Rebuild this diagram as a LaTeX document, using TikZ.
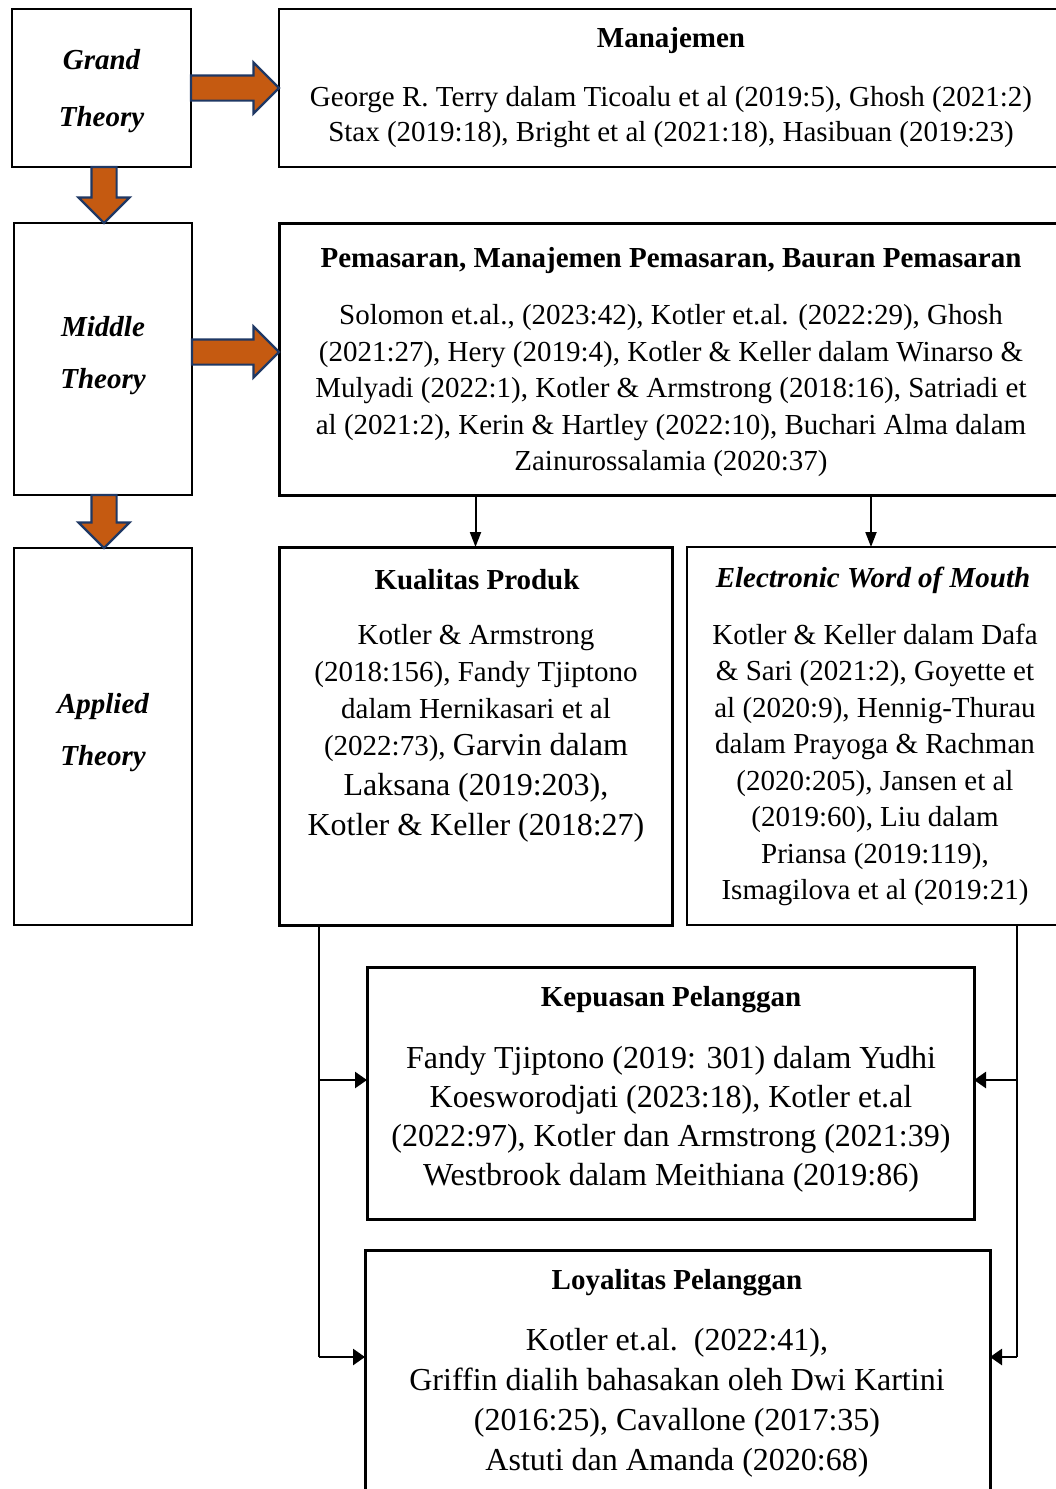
\documentclass[tikz,border=0pt]{standalone}
\usepackage{fontspec}
\setmainfont{Liberation Serif}
\usepackage{xcolor}
\usetikzlibrary{positioning, calc, shapes.arrows, arrows.meta}
\definecolor{rust}{HTML}{C55A11}
\definecolor{navy}{HTML}{1F3864}
\tikzset{
    frame/.style ={draw, inner sep=0pt, outer sep=0pt, line width=1.3pt},
    heavy/.style ={frame, line width=3pt},
    theory/.style={align=center, inner sep=0pt, yshift=-3pt, font=\fontsize{29}{57}\selectfont\bfseries\itshape},
    head/.style  ={align=center, inner sep=0pt, yshift=-3pt, font=\fontsize{29}{36}\selectfont\bfseries},
    txt/.style   ={align=center, inner sep=0pt, yshift=-3pt, font=\fontsize{29}{36.5}\selectfont},
    bigtxt/.style={align=center, inner sep=0pt, yshift=-3pt, font=\fontsize{32}{39.5}\selectfont},
    blockarrow/.style={single arrow, draw=navy, fill=rust, line width=2.2pt,
        inner xsep=0pt, inner ysep=11.5pt, minimum width=49pt,
        single arrow head extend=13pt, outer sep=0pt},
    directed/.style={-{Triangle[length=15pt,width=11pt]}, line width=2pt},
    feed/.style={-{Triangle[length=12pt,width=16pt]}, line width=2.6pt},
    rail/.style={line width=1.3pt}
}

\begin{document}
\begin{tikzpicture}[x=1pt, y=-1pt]
    \useasboundingbox (0,0) rectangle (1056,1489);
    \clip (0,0) rectangle (1056,1489);

    % left column
    \node[frame, minimum width=179pt, minimum height=158pt] (grand) at (101.5,88) {};
    \node[frame, minimum width=178pt, minimum height=272pt] (middle) at (103,359) {};
    \node[frame, minimum width=178pt, minimum height=377pt] (applied) at (103,736.5) {};
    \node[theory] at (101.5,88) {Grand\\Theory};
    \node[theory, font=\fontsize{29}{52}\selectfont\bfseries\itshape] at (103,353) {Middle\\Theory};
    \node[theory, font=\fontsize{29}{52}\selectfont\bfseries\itshape] at (103,730) {Applied\\Theory};

    % theory boxes
    \node[frame, line width=1.5pt, minimum width=781pt, minimum height=158pt] (manaj) at (669.5,88) {};
    \node[heavy, minimum width=781pt, minimum height=272pt] (pemas) at (669.5,359) {};
    \node[heavy, minimum width=393pt, minimum height=378pt] (kual) at (475.5,736) {};
    \node[frame, line width=1.5pt, minimum width=373pt, minimum height=378pt] (ewom) at (873.5,736) {};
    \node[heavy, minimum width=607pt, minimum height=252pt] (kepuas) at (670.5,1093) {};
    \node[heavy, minimum width=625pt, minimum height=250pt] (loyal) at (677.5,1375) {};

    \node[head] at (671,38) {Manajemen};
    \node[txt, font=\fontsize{29}{35}\selectfont] at (671,114) {George R. Terry dalam Ticoalu et al (2019:5), Ghosh (2021:2)\\
        Stax (2019:18), Bright et al (2021:18), Hasibuan (2019:23)};

    \node[head] at (671,258) {Pemasaran, Manajemen Pemasaran, Bauran Pemasaran};
    \node[txt] at (671,388) {Solomon et.al., (2023:42), Kotler et.al. (2022:29), Ghosh\\
        (2021:27), Hery (2019:4), Kotler \& Keller dalam Winarso \&\\
        Mulyadi (2022:1), Kotler \& Armstrong (2018:16), Satriadi et\\
        al (2021:2), Kerin \& Hartley (2022:10), Buchari Alma dalam\\
        Zainurossalamia (2020:37)};

    \node[head] at (477,577) {Kualitas Produk};
    \node[txt, font=\fontsize{29}{37}\selectfont] at (476,730) {Kotler \& Armstrong\\
        (2018:156), Fandy Tjiptono\\
        dalam Hernikasari et al\\
        (2022:73), {\fontsize{32}{37}\selectfont Garvin dalam}\\[3pt]
        {\fontsize{32}{37}\selectfont Laksana (2019:203),}\\[3pt]
        {\fontsize{32}{37}\selectfont Kotler \& Keller (2018:27)}};

    \node[head, font=\fontsize{29}{36}\selectfont\bfseries\itshape] at (873,577) {Electronic Word of Mouth};
    \node[txt] at (875,762) {Kotler \& Keller dalam Dafa\\
        \& Sari (2021:2), Goyette et\\
        al (2020:9), Hennig-Thurau\\
        dalam Prayoga \& Rachman\\
        (2020:205), Jansen et al\\
        (2019:60), Liu dalam\\
        Priansa (2019:119),\\
        Ismagilova et al (2019:21)};

    \node[head] at (671,997) {Kepuasan Pelanggan};
    \node[bigtxt, font=\fontsize{32}{39}\selectfont] at (671,1116) {Fandy Tjiptono (2019: 301) dalam Yudhi\\
        Koesworodjati (2023:18), Kotler et.al\\
        (2022:97), Kotler dan Armstrong (2021:39)\\
        Westbrook dalam Meithiana (2019:86)};

    \node[head] at (677,1280) {Loyalitas Pelanggan};
    \node[bigtxt, font=\fontsize{32}{40}\selectfont] at (677,1400) {Kotler et.al.\ \ (2022:41),\\
        Griffin dialih bahasakan oleh Dwi Kartini\\
        (2016:25), Cavallone (2017:35)\\
        Astuti dan Amanda (2020:68)};

    % block arrows
    \node[blockarrow, anchor=tail, minimum height=88pt] at (grand.east) {};
    \node[blockarrow, anchor=tail, minimum height=87pt] at (middle.east |- 0,352) {};
    \node[blockarrow, anchor=tail, rotate=-90, minimum height=56pt] at (grand.south -| 104,0) {};
    \node[blockarrow, anchor=tail, rotate=-90, minimum height=53pt] at (middle.south -| 104,0) {};

    % connectors
    \draw[directed] (pemas.south -| kual.north) -- (kual.north);
    \draw[directed] (pemas.south -| 871,0) -- (ewom.north -| 871,0);

    \coordinate (lt) at (319,925);
    \coordinate (lk) at (319,1080);
    \coordinate (lb) at (319,1357);
    \coordinate (rt) at (1017,925);
    \coordinate (rk) at (1017,1080);
    \coordinate (rb) at (1017,1357);
    \draw[rail] (lt) -- (lb);
    \draw[rail] (rt) -- (rb);
    \draw[feed] (lk) -- (lk -| kepuas.west);
    \draw[feed] (lb) -- (lb -| loyal.west);
    \draw[feed] (rk) -- (rk -| kepuas.east);
    \draw[feed] (rb) -- (rb -| loyal.east);
\end{tikzpicture}
\end{document}
